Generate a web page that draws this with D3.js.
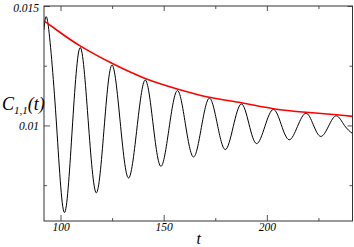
<!DOCTYPE html>
<html>
<head>
<meta charset="utf-8">
<script src="https://cdn.jsdelivr.net/npm/d3@7"></script>
<style>
  body { margin: 0; background: #fff; }
  svg text { font-family: "Liberation Serif", "DejaVu Serif", serif; font-style: italic; }
</style>
</head>
<body>
<div id="chart"></div>
<script>
// oscillating correlation C_{1,1}(t): peaks, troughs and crossings
var tValues = [92, 93.9, 97.85, 101.8, 105.65, 109.5, 113.4, 117.3, 121.1, 124.9, 128.9, 132.9,
  137.0, 141.0, 144.8, 148.6, 152.6, 156.6, 160.5, 164.4, 168.25, 172.1, 175.95, 179.8,
  183.7, 187.6, 191.3, 195.0, 199.05, 203.1, 206.95, 210.8, 214.85, 218.9, 222.5, 226.1,
  229.9, 233.7, 237.6, 241.5];
var cValues = [0.01400, 0.01428, 0.01032, 0.00636, 0.00981, 0.01326, 0.01022, 0.00718, 0.00986, 0.01253, 0.01017, 0.00780,
  0.00985, 0.01190, 0.01010, 0.00829, 0.00988, 0.01146, 0.01007, 0.00868, 0.00991, 0.01114, 0.01007, 0.00899,
  0.00995, 0.01090, 0.01007, 0.00924, 0.00996, 0.01067, 0.01004, 0.00940, 0.00996, 0.01051, 0.01003, 0.00954,
  0.00997, 0.01040, 0.01000, 0.00966];

// red envelope
var envT = [92, 100, 109.5, 124.9, 141.0, 156.6, 172.1, 187.6, 203.1, 218.9, 233.7, 241.5];
var envC = [0.01438, 0.01388, 0.01333, 0.01260, 0.01197, 0.01153, 0.01118, 0.01095, 0.01070, 0.01055, 0.01045, 0.01038];

var xMajor = [100, 150, 200];
var xMinor = [125, 175, 225];
var yMajor = [0.01, 0.015];
var yMinor = [0.0075, 0.0125];

var W = 354, H = 247;
var margin = {top: 6, right: 1.5, bottom: 26, left: 44};
var width = W - margin.left - margin.right;
var height = H - margin.top - margin.bottom;

var svg = d3.select("#chart").append("svg")
  .attr("width", W)
  .attr("height", H);

var g = svg.append("g")
  .attr("transform", "translate(" + margin.left + "," + margin.top + ")");

var x = d3.scaleLinear().domain([92, 241.5]).range([0, width]);
var y = d3.scaleLinear().domain([0.006, 0.015]).range([height, 0]);

var osc = tValues.map(function(t, i) { return [t, cValues[i]]; });
var env = envT.map(function(t, i) { return [t, envC[i]]; });

g.append("clipPath").attr("id", "clip")
  .append("rect").attr("width", width).attr("height", height);

var line = d3.line()
  .x(function(d) { return x(d[0]); })
  .y(function(d) { return y(d[1]); })
  .curve(d3.curveNatural);

g.append("path")
  .datum(osc)
  .attr("clip-path", "url(#clip)")
  .attr("fill", "none")
  .attr("stroke", "#000")
  .attr("stroke-width", 1)
  .attr("d", line);

g.append("path")
  .datum(env)
  .attr("clip-path", "url(#clip)")
  .attr("fill", "none")
  .attr("stroke", "#f00")
  .attr("stroke-width", 1.6)
  .attr("d", line);

// axes, ticks pointing inward on all four sides
function styleAxis(sel) {
  sel.select(".domain").remove();
  sel.selectAll(".tick line").attr("stroke", "#555");
  sel.selectAll(".tick text")
    .attr("fill", "#000")
    .style("font-family", "Liberation Serif, serif")
    .style("font-style", "italic")
    .style("font-size", "11.5px");
}

g.append("g").attr("transform", "translate(0," + height + ")")
  .call(d3.axisBottom(x).tickValues(xMajor).tickSize(-6).tickPadding(2).tickFormat(d3.format("d")))
  .call(styleAxis);
g.append("g").attr("transform", "translate(0," + height + ")")
  .call(d3.axisBottom(x).tickValues(xMinor).tickSize(-3).tickFormat(""))
  .call(styleAxis);
g.append("g")
  .call(d3.axisTop(x).tickValues(xMajor).tickSize(-5).tickFormat(""))
  .call(styleAxis);
g.append("g")
  .call(d3.axisTop(x).tickValues(xMinor).tickSize(-3).tickFormat(""))
  .call(styleAxis);

var yl = g.append("g")
  .call(d3.axisLeft(y).tickValues(yMajor).tickSize(-6).tickPadding(5).tickFormat(function(d) { return String(d); }))
  .call(styleAxis);
// keep the top label inside the picture
yl.selectAll(".tick text").filter(function(d) { return d === 0.015; }).attr("dy", "0.5em");

g.append("g")
  .call(d3.axisLeft(y).tickValues(yMinor).tickSize(-3).tickFormat(""))
  .call(styleAxis);
g.append("g").attr("transform", "translate(" + width + ",0)")
  .call(d3.axisRight(y).tickValues(yMajor).tickSize(-5).tickFormat(""))
  .call(styleAxis);
g.append("g").attr("transform", "translate(" + width + ",0)")
  .call(d3.axisRight(y).tickValues(yMinor).tickSize(-3).tickFormat(""))
  .call(styleAxis);

// frame
g.append("rect")
  .attr("width", width)
  .attr("height", height)
  .attr("fill", "none")
  .attr("stroke", "#333")
  .attr("stroke-width", 1);

// axis titles
var yt = svg.append("text")
  .attr("x", 2)
  .attr("y", 110)
  .style("font-size", "18px");
yt.append("tspan").text("C");
yt.append("tspan").attr("dy", 4).style("font-size", "11px").text("1,1");
yt.append("tspan").attr("dy", -4).text("(t)");

svg.append("text")
  .attr("x", margin.left + x(167))
  .attr("y", 244)
  .attr("text-anchor", "middle")
  .style("font-size", "16px")
  .text("t");
</script>
</body>
</html>
